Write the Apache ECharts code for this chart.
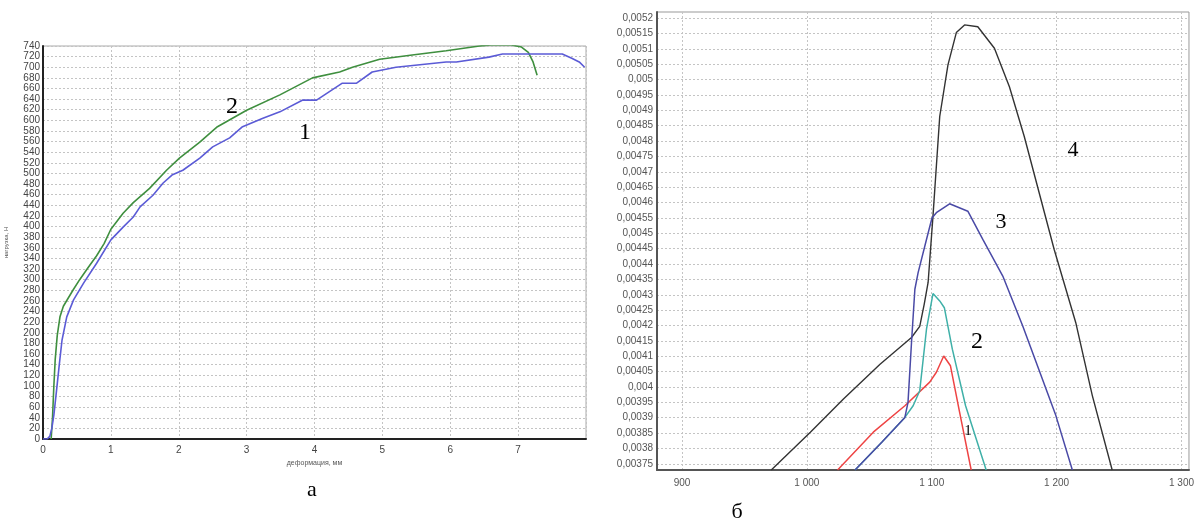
<!DOCTYPE html>
<html><head><meta charset="utf-8">
<script src="https://cdn.jsdelivr.net/npm/echarts@6/dist/echarts.min.js"></script>
<style>html,body{margin:0;padding:0;background:#fff}#c{width:1197px;height:526px}</style>
</head><body><div id="c"></div>
<script>
// ---- left chart (а): load vs deformation ----
const leftXTicks = [0,1,2,3,4,5,6,7,8];
const curve1X = [0,0.06,0.1,0.13,0.16,0.2,0.24,0.28,0.35,0.45,0.6,0.79,1.0,1.18,1.33,1.43,1.62,1.77,1.9,2.06,2.31,2.5,2.75,2.94,3.24,3.49,3.82,4.03,4.41,4.62,4.85,5.2,5.94,6.09,6.57,6.77,7.65,7.79,7.9,7.98];
const curve1Y = [0,0,5,20,45,92,140,186,230,262,294,331,375,399,418,437,459,482,497,506,529,550,567,588,604,616,638,638,670,670,691,700,710,710,719,725,725,717,710,700];
const curve2X = [0.12,0.14,0.16,0.18,0.21,0.25,0.3,0.37,0.45,0.54,0.65,0.79,0.9,1.0,1.18,1.33,1.57,1.82,2.01,2.31,2.57,3.0,3.49,3.97,4.37,4.56,4.96,5.44,5.94,6.43,6.6,6.9,7.05,7.15,7.22,7.28];
const curve2Y = [0,40,100,150,195,230,250,265,282,300,320,345,368,395,425,445,472,506,529,559,588,619,648,680,691,700,715,723,731,740,742,742,738,728,710,685];

// ---- right chart (б) ----
const rightXTicks = [900,1000,1100,1200,1300];
const rightYTicks = [0.00375,0.0038,0.00385,0.0039,0.00395,0.004,0.00405,0.0041,0.00415,0.0042,0.00425,0.0043,0.00435,0.0044,0.00445,0.0045,0.00455,0.0046,0.00465,0.0047,0.00475,0.0048,0.00485,0.0049,0.00495,0.005,0.00505,0.0051,0.00515,0.0052];
const line1X = [1024.6,1053.2,1078.5,1098.4,1103.7,1109.6,1115,1122.3,1131.6];
const line1Y = [0.00373,0.003853,0.003939,0.004016,0.004048,0.004101,0.004069,0.003918,0.00373];
const line2X = [1038.6,1060,1078.5,1085.1,1090.4,1095.8,1101,1106.4,1110.1,1116.5,1127.1,1143.6];
const line2Y = [0.00373,0.00382,0.003901,0.003939,0.003988,0.004188,0.004304,0.00428,0.004258,0.004123,0.003939,0.00373];
const line3X = [1038.6,1060,1078.5,1081,1083.8,1086.5,1089.1,1095.8,1100.2,1103.7,1114.3,1128.9,1140.9,1156.9,1172.8,1199.4,1212.6];
const line3Y = [0.00373,0.00382,0.003901,0.00395,0.004145,0.004318,0.004372,0.00448,0.00455,0.004567,0.004596,0.004572,0.00448,0.004361,0.004199,0.003907,0.00373];
const line4X = [971.5,1002.8,1029.3,1058.6,1083.8,1090.4,1094,1097.1,1101,1106.4,1113,1119.7,1126.3,1136.9,1150.2,1162.2,1174.1,1198,1215.3,1228.6,1244.5];
const line4Y = [0.00373,0.003853,0.003961,0.004074,0.004161,0.004197,0.00427,0.00434,0.004556,0.00488,0.005048,0.005153,0.005178,0.005172,0.005102,0.004977,0.004815,0.004448,0.00421,0.003972,0.00373];

const X_MIN = 880, X_MAX = 1306, Y_MIN = 0.00373, Y_MAX = 0.00522;
const zip = (xs, ys) => xs.map((x, i) => [x, ys[i]]);
const dotted = {type: [2, 2], color: '#c4c4c4', width: 1};
const lab = {color: '#444', fontSize: 10, fontFamily: 'Liberation Sans'};

const gridLines = rightXTicks.map(v => [{coord: [v, Y_MIN]}, {coord: [v, Y_MAX]}])
  .concat(rightYTicks.map(v => [{coord: [X_MIN, v]}, {coord: [X_MAX, v]}]));

const chart = echarts.init(document.getElementById('c'));
const serif = 'Liberation Serif';
const txt = (t, x, y, s) => ({type: 'text', x: x, y: y, z: 10, style: {text: t, fontFamily: serif, fontSize: s, fill: '#000', textAlign: 'center', textVerticalAlign: 'middle'}});

chart.setOption({
  animation: false,
  grid: [
    {left: 43, top: 46, width: 543, height: 393, show: true, borderColor: '#aaa', borderWidth: 1},
    {left: 657, top: 12, width: 535, height: 458, show: true, borderColor: '#999', borderWidth: 1}
  ],
  xAxis: [
    {type: 'value', gridIndex: 0, min: 0, max: 8, interval: 1,
     axisLine: {show: true, lineStyle: {color: '#222', width: 2}}, axisTick: {show: false},
     splitLine: {show: true, lineStyle: dotted},
     axisLabel: Object.assign({margin: 6, formatter: v => leftXTicks.indexOf(v) >= 0 && v < 8 ? String(v) : ''}, lab),
     name: 'деформация, мм', nameLocation: 'middle', nameGap: 17,
     nameTextStyle: {fontSize: 7, color: '#555', fontFamily: 'Liberation Sans'}},
    {type: 'value', gridIndex: 1, min: X_MIN, max: X_MAX, interval: 20,
     axisLine: {show: true, lineStyle: {color: '#555', width: 2}}, axisTick: {show: false},
     splitLine: {show: false},
     axisLabel: Object.assign({}, lab, {color: '#555', margin: 8, formatter: v => {
       if (rightXTicks.indexOf(v) < 0) return '';
       return v >= 1000 ? Math.floor(v / 1000) + ' ' + String(v % 1000).padStart(3, '0') : String(v);
     }})}
  ],
  yAxis: [
    {type: 'value', gridIndex: 0, min: 0, max: 740, interval: 20,
     axisLine: {show: true, lineStyle: {color: '#222', width: 2}}, axisTick: {show: false},
     splitLine: {show: true, lineStyle: dotted},
     axisLabel: Object.assign({margin: 3}, lab),
     name: 'нагрузка, Н', nameLocation: 'middle', nameGap: 34,
     nameTextStyle: {fontSize: 6, color: '#555', fontFamily: 'Liberation Sans'}},
    {type: 'value', gridIndex: 1, min: Y_MIN, max: Y_MAX, interval: 0.00001,
     axisLine: {show: true, lineStyle: {color: '#555', width: 2}}, axisTick: {show: false},
     splitLine: {show: false},
     axisLabel: Object.assign({}, lab, {color: '#555', margin: 4, formatter: v => {
       const k = Math.round(v * 1e5);
       if (Math.abs(v * 1e5 - k) > 1e-3 || k % 5 !== 0 || k < 375 || k > 520) return '';
       return (k / 1e5).toString().replace('.', ',');
     }})}
  ],
  series: [
    {type: 'line', xAxisIndex: 1, yAxisIndex: 1, data: [[X_MIN, Y_MIN]], showSymbol: false, lineStyle: {width: 0}, z: 0, silent: true,
     markLine: {silent: true, z: 0, symbol: ['none', 'none'], label: {show: false}, lineStyle: dotted, animation: false,
       emphasis: {disabled: true}, data: gridLines}},
    {name: '2', type: 'line', xAxisIndex: 0, yAxisIndex: 0, data: zip(curve2X, curve2Y), showSymbol: false,
     lineStyle: {color: '#3f8f3f', width: 1.6}, z: 3},
    {name: '1', type: 'line', xAxisIndex: 0, yAxisIndex: 0, data: zip(curve1X, curve1Y), showSymbol: false,
     lineStyle: {color: '#5b5bd6', width: 1.6}, z: 3},
    {name: '4', type: 'line', xAxisIndex: 1, yAxisIndex: 1, data: zip(line4X, line4Y), showSymbol: false,
     lineStyle: {color: '#333', width: 1.4}, z: 3},
    {name: '1r', type: 'line', xAxisIndex: 1, yAxisIndex: 1, data: zip(line1X, line1Y), showSymbol: false,
     lineStyle: {color: '#ee4444', width: 1.5}, z: 3},
    {name: '2r', type: 'line', xAxisIndex: 1, yAxisIndex: 1, data: zip(line2X, line2Y), showSymbol: false,
     lineStyle: {color: '#3fb0a8', width: 1.5}, z: 3},
    {name: '3', type: 'line', xAxisIndex: 1, yAxisIndex: 1, data: zip(line3X, line3Y), showSymbol: false,
     lineStyle: {color: '#4a4aa6', width: 1.5}, z: 4}
  ],
  graphic: [
    txt('2', 232, 107, 24), txt('1', 305, 133, 24), txt('а', 312, 490, 22),
    txt('4', 1073, 150, 22), txt('3', 1001, 222, 22), txt('2', 977, 342, 24), txt('1', 968, 431, 15),
    txt('б', 737, 512, 22)
  ]
});
</script></body></html>
